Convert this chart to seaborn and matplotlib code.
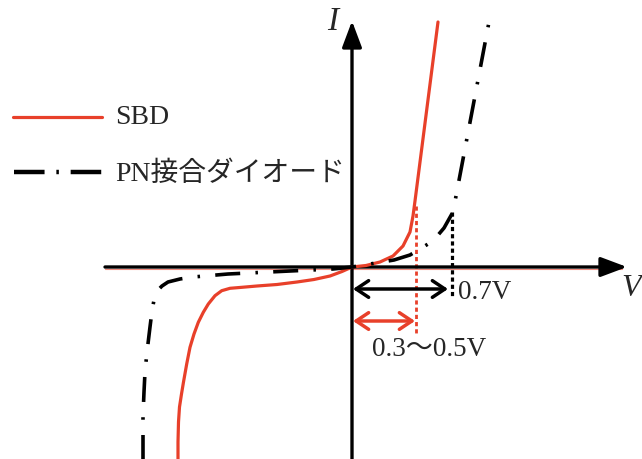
import matplotlib
matplotlib.use("Agg")
import matplotlib.pyplot as plt
import seaborn as sns
import pandas as pd

sns.set_theme(style="white")
plt.rcParams["font.family"] = ["Liberation Serif", "Noto Sans CJK JP", "DejaVu Sans"]
plt.rcParams["lines.scale_dashes"] = False

# I-V characteristic curves (schematic units, origin at the axis crossing)
sbd_v = [-174, -174, -173.5, -172.5, -170.5, -168.5, -165.3, -162, -158, -153.7,
         -148.7, -143.7, -137, -130.3, -122, -110, -95, -75, -55, -38, -22, -10, 0,
         14, 28, 41, 51, 58, 61, 63, 86]
sbd_i = [-200, -175, -155, -140, -127, -115, -97, -80.3, -67, -55.3,
         -45.3, -37, -28.7, -23.7, -21.3, -20.3, -19, -17.5, -15, -12.5, -9, -4.5, 0,
         1.5, 5, 11, 21, 35, 51, 66, 245]

pn_v = [-209, -209, -208, -207, -205, -202, -200, -198, -196, -193, -190, -184, -172,
        -159, -124, -62, -19, 0, 42, 58, 81, 92, 101, 137]
pn_i = [-200, -149, -125, -105, -85, -60, -44, -33, -26, -22, -19, -15, -12,
        -10, -7, -4, -2, 0, 7, 12, 26, 39, 55, 245]

# Threshold markers
knee_sbd = 64      # 0.3~0.5V
knee_pn = 100      # 0.7V
labels = ["SBD", "PN接合ダイオード"]
red = "#e8402a"

fig = plt.figure(figsize=(6.42, 4.60), dpi=100)
ax = fig.add_axes([0, 0, 1, 1])
ax.set_xlim(-352, 290)
ax.set_ylim(-192, 268)
ax.axis("off")

df_sbd = pd.DataFrame({"V": sbd_v, "I": sbd_i})
df_pn = pd.DataFrame({"V": pn_v, "I": pn_i})

# faint red shadow under the V axis
ax.plot([-247, 270], [-2, -2], color=red, lw=0.8, alpha=0.6, zorder=1)

# axes with arrowheads
axis_kw = dict(arrowstyle="-|>,head_length=0.8,head_width=0.3", lw=2.4,
               color="black", shrinkA=0, shrinkB=0, mutation_scale=20)
ax.annotate("", xy=(275, 0), xytext=(-247, 0), arrowprops=axis_kw, zorder=3)
ax.annotate("", xy=(0, 246), xytext=(0, -200), arrowprops=axis_kw, zorder=3)

sbd_line = sns.lineplot(data=df_sbd, x="V", y="I", sort=False, estimator=None, ax=ax,
                        color=red, lw=2.3, zorder=4).lines[-1]
sbd_line.set_solid_joinstyle("round")
pn_line = sns.lineplot(data=df_pn, x="V", y="I", sort=False, estimator=None, ax=ax,
                       color="black", lw=2.6, zorder=4).lines[-1]
pn_line.set_linestyle((0, (18, 11, 1.8, 11)))

# threshold guide lines
ax.plot([knee_sbd, knee_sbd], [61, -69], color=red, lw=2.0,
        linestyle=(0, (3, 2.2)), zorder=2)
ax.plot([knee_pn, knee_pn], [55, -30], color="black", lw=2.3,
        linestyle=(0, (3, 2.2)), zorder=2)

# width arrows
dbl = "<->,head_length=0.45,head_width=0.3"
ax.annotate("", xy=(knee_pn - 4, -22), xytext=(1, -22),
            arrowprops=dict(arrowstyle=dbl, lw=2.5, color="black",
                            shrinkA=0, shrinkB=0, mutation_scale=20), zorder=5)
ax.annotate("", xy=(knee_sbd - 1, -54), xytext=(1, -54),
            arrowprops=dict(arrowstyle=dbl, lw=2.5, color=red,
                            shrinkA=0, shrinkB=0, mutation_scale=20), zorder=5)

ax.text(106, -25, "0.7V", fontsize=19.5, ha="left", va="center")
ax.text(20, -82, "0.3～0.5V", fontsize=19.5, ha="left", va="center")

# axis labels
ax.text(-19, 246, "I", fontsize=24, style="italic", ha="center", va="center")
ax.text(279, -21, "V", fontsize=23, style="italic", ha="center", va="center")

# legend
ax.plot([-339, -250], [150, 150], color=red, lw=2.3)
ax.text(-237, 150, labels[0], fontsize=20, ha="left", va="center")
ax.plot([-338, -250], [95, 95], color="black", lw=3.2,
        linestyle=(0, (22, 8.5, 1.8, 8.5, 22)))
ax.text(-237, 94, labels[1], fontsize=20, ha="left", va="center")

fig.savefig("out.png", dpi=100)
